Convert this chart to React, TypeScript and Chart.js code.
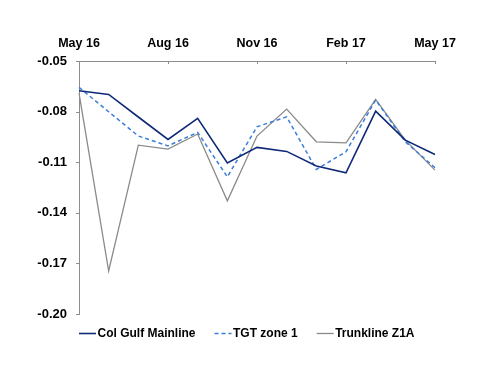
import React, { useEffect, useRef } from "react";
import { Chart, registerables } from "chart.js";

Chart.register(...registerables);

const months = [
  "May 16", "Jun 16", "Jul 16", "Aug 16", "Sep 16", "Oct 16", "Nov 16",
  "Dec 16", "Jan 17", "Feb 17", "Mar 17", "Apr 17", "May 17",
];
const shownTickLabels = ["May 16", "Aug 16", "Nov 16", "Feb 17", "May 17"];
const colGulf = [-0.0676, -0.0698, -0.0832, -0.0965, -0.084, -0.1104, -0.1012, -0.1036, -0.1123, -0.1163, -0.0797, -0.0969, -0.1054];
const tgtZone1 = [-0.0656, -0.0801, -0.0945, -0.1003, -0.0923, -0.1187, -0.089, -0.0831, -0.1143, -0.1038, -0.0731, -0.0979, -0.1133];
const trunkline = [-0.069, -0.1745, -0.0999, -0.1022, -0.0933, -0.1329, -0.0945, -0.0785, -0.0979, -0.0985, -0.0727, -0.0969, -0.1147];
const seriesNames = ["Col Gulf Mainline", "TGT zone 1", "Trunkline Z1A"];
const yMin = -0.2;
const yMax = -0.05;
const yStep = 0.03;

const AXIS = "#8c8c8c";
const FONT = "Liberation Sans";

const tickMarks = {
  id: "tickMarks",
  afterDraw(chart: any) {
    const { ctx, chartArea, scales } = chart;
    ctx.save();
    ctx.strokeStyle = AXIS;
    ctx.lineWidth = 1;
    const xs = scales.x;
    xs.ticks.forEach((t: any, i: number) => {
      if (!shownTickLabels.includes(months[i])) return;
      const x = Math.round(xs.getPixelForTick(i)) + 0.5;
      ctx.beginPath();
      ctx.moveTo(x, chartArea.top);
      ctx.lineTo(x, chartArea.top + 3);
      ctx.stroke();
    });
    const ys = scales.y;
    ys.ticks.forEach((t: any, i: number) => {
      const y = Math.round(ys.getPixelForTick(i)) + 0.5;
      ctx.beginPath();
      ctx.moveTo(chartArea.left - 3, y);
      ctx.lineTo(chartArea.left, y);
      ctx.stroke();
    });
    ctx.restore();
  },
};

const customLegend = {
  id: "customLegend",
  afterDraw(chart: any) {
    const { ctx, chartArea } = chart;
    ctx.save();
    ctx.font = `bold 12px "${FONT}"`;
    ctx.textBaseline = "middle";
    ctx.fillStyle = "#000";
    const y = 333.5;
    let x = chartArea.left;
    chart.data.datasets.forEach((ds: any) => {
      ctx.beginPath();
      ctx.strokeStyle = ds.borderColor;
      ctx.lineWidth = ds.borderWidth;
      ctx.setLineDash(ds.borderDash || []);
      ctx.moveTo(x, y);
      ctx.lineTo(x + 17, y);
      ctx.stroke();
      ctx.setLineDash([]);
      ctx.fillText(ds.label, x + 18.5, y + 0.5);
      x += 18.5 + ctx.measureText(ds.label).width + 19;
    });
    ctx.restore();
  },
};

export default function App() {
  const ref = useRef<HTMLCanvasElement>(null);
  useEffect(() => {
    const chart = new Chart(ref.current!, {
      type: "line",
      data: {
        labels: months,
        datasets: [
          { label: seriesNames[0], data: colGulf, borderColor: "#0e2a78", borderWidth: 1.6, pointRadius: 0, tension: 0 },
          { label: seriesNames[1], data: tgtZone1, borderColor: "#3b7dd8", borderWidth: 1.5, borderDash: [4, 3], pointRadius: 0, tension: 0 },
          { label: seriesNames[2], data: trunkline, borderColor: "#8a8a8a", borderWidth: 1.3, pointRadius: 0, tension: 0 },
        ],
      },
      options: {
        animation: false,
        responsive: true,
        maintainAspectRatio: false,
        layout: { padding: { left: 0, right: 65, top: 0, bottom: 72 } },
        plugins: { legend: { display: false }, tooltip: { enabled: false } },
        scales: {
          x: {
            position: "top",
            offset: false,
            grid: { display: false, drawTicks: false },
            border: { display: true, color: AXIS, width: 1 },
            afterFit: (s: any) => { s.height = 61; },
            ticks: {
              autoSkip: false,
              maxRotation: 0,
              padding: 10,
              color: "#000",
              font: { family: FONT, size: 12.5, weight: "bold" },
              callback: (v: any, i: number) => (shownTickLabels.includes(months[i]) ? months[i] : ""),
            },
          },
          y: {
            min: yMin,
            max: yMax,
            grid: { display: false, drawTicks: false },
            border: { display: true, color: AXIS, width: 1 },
            afterFit: (s: any) => { s.width = 79; },
            ticks: {
              stepSize: yStep,
              padding: 12,
              color: "#000",
              font: { family: FONT, size: 13, weight: "bold" },
              callback: (v: any) => Number(v).toFixed(2),
            },
          },
        },
      },
      plugins: [tickMarks, customLegend],
    });
    return () => chart.destroy();
  }, []);
  return (
    <div style={{ position: "absolute", left: 0, top: 0, width: 500, height: 386, background: "#fff" }}>
      <canvas ref={ref} />
    </div>
  );
}
